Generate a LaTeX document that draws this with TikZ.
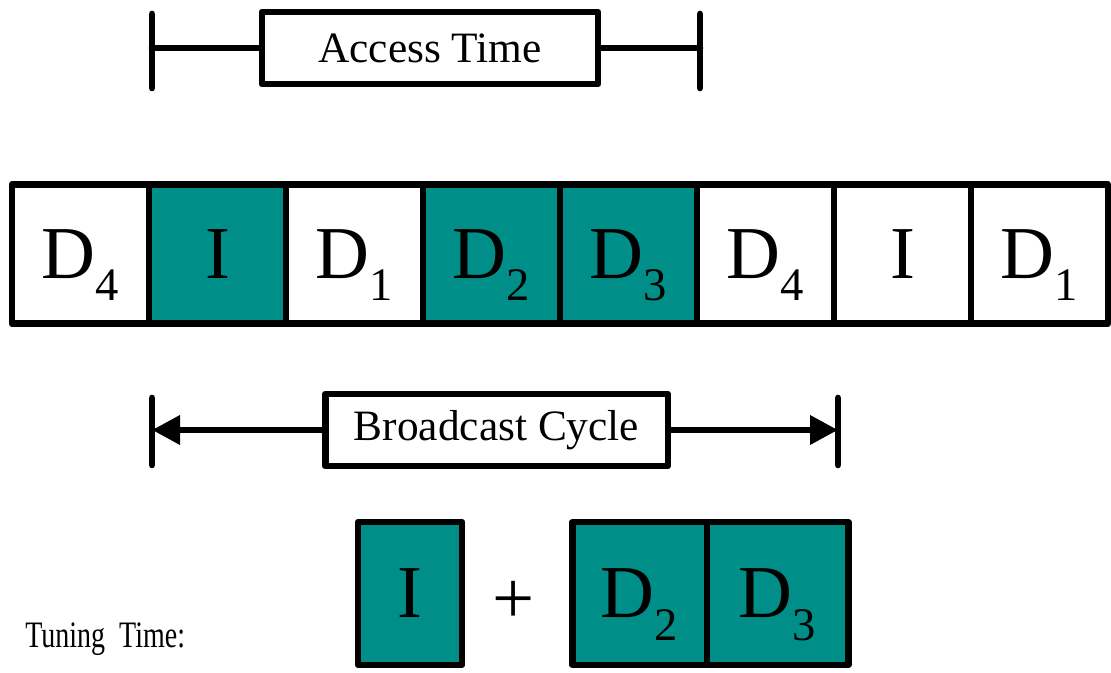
\documentclass[tikz,border=0pt]{standalone}
\usepackage{fontspec}
\setmainfont{Liberation Serif}
\usetikzlibrary{arrows.meta}

\definecolor{slotteal}{RGB}{0,142,137}
\newcommand{\slotsub}[2]{#1\raisebox{-0.3em}[0pt][0pt]{\fontsize{35}{35}\selectfont #2}}

\tikzset{
  cell/.style={draw, line width=5pt, line join=round, inner sep=0pt, minimum width=102.75pt,
    minimum height=104.25pt, font=\fontsize{56}{56}\selectfont},
  labelbox/.style={draw, line width=5pt, line join=round, fill=white, inner sep=0pt,
    minimum height=54pt, font=\fontsize{32.5}{32.5}\selectfont},
  tick/.style={line width=5pt, line cap=round},
}

\begin{document}
\begin{tikzpicture}[x=0.75pt, y=-0.75pt]
		\useasboundingbox (0,0) rectangle (1111,673);

		% broadcast strip
		\foreach \i/\txt/\sh in {1/\slotsub{D}{4}/white, 2/I/slotteal, 3/\slotsub{D}{1}/white,
		    4/\slotsub{D}{2}/slotteal, 5/\slotsub{D}{3}/slotteal, 6/\slotsub{D}{4}/white,
		    7/I/white, 8/\slotsub{D}{1}/white}
		  \node[cell, fill=\sh] (c\i) at ({12+137*(\i-0.5)},254) {\txt};

		% access time
		\coordinate (atl) at (152,48);
		\coordinate (atr) at (700,48);
		\draw[tick] (atl) ++(0,-34) -- ++(0,74);
		\draw[tick] (atr) ++(0,-34) -- ++(0,74);
		\node[labelbox, minimum width=252pt] (acc) at (430,48) {Access Time};
		\draw[tick] (atl) -- (acc.west);
		\draw[tick] (acc.east) -- (atr);

		% broadcast cycle
		\coordinate (bcl) at (152,430);
		\coordinate (bcr) at (838,430);
		\draw[tick] (bcl) ++(0,-32) -- ++(0,67);
		\draw[tick] (bcr) ++(0,-32) -- ++(0,67);
		\node[labelbox, minimum width=257pt] (bc) at (496.5,430) {Broadcast Cycle};
		\draw[tick, line cap=butt, -{Triangle[length=21pt,width=21pt]}] (bc.west) -- (bcl);
		\draw[tick, line cap=butt, -{Triangle[length=21pt,width=21pt]}] (bc.east) -- (bcr);

		% tuning time
		\node[anchor=base west, inner sep=0pt, font=\fontsize{28}{28}\selectfont] (tt) at (25,647)
		  {\scalebox{0.75}[1]{Tuning\ \ Time:}};
		\node[cell, fill=slotteal, minimum width=78pt, minimum height=107pt] (ti) at (410,593.5) {I};
		\node[font=\fontsize{56}{56}\selectfont] (plus) at (514,602) {+};
		\node[cell, fill=slotteal, minimum width=101pt, minimum height=107pt] (t2) at (639.5,593.5) {\slotsub{D}{2}};
		\node[cell, fill=slotteal, minimum width=106pt, minimum height=107pt] (t3) at (777.5,593.5) {\slotsub{D}{3}};
	\end{tikzpicture}
\end{document}
